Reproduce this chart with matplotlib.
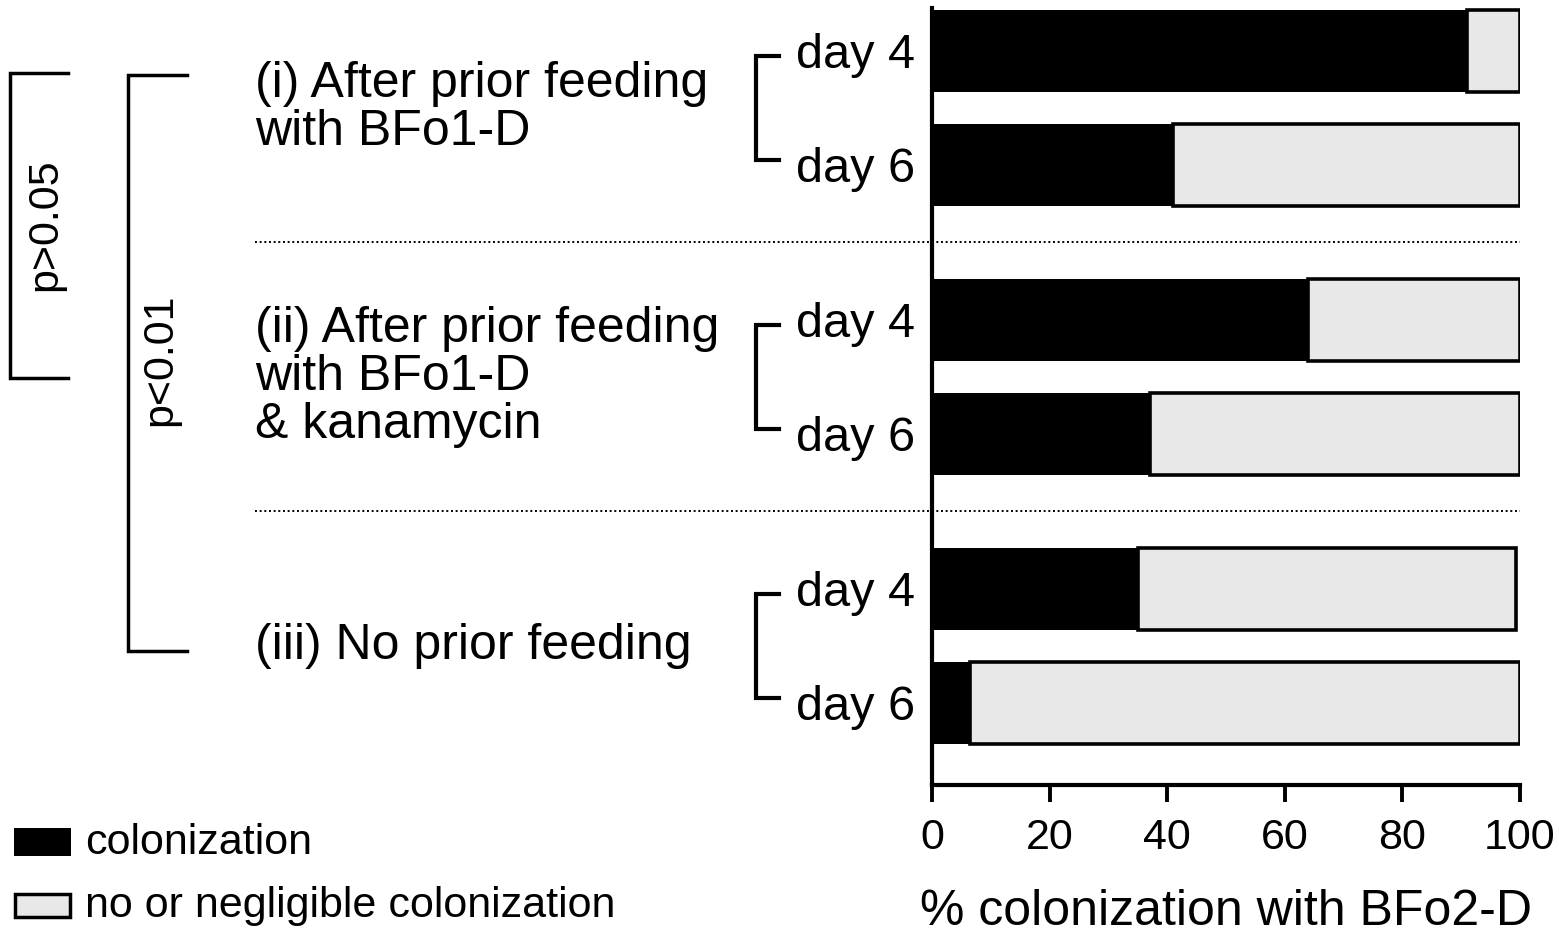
import matplotlib; matplotlib.use("Agg")
import matplotlib.pyplot as plt
import matplotlib.transforms as mtransforms
from matplotlib.lines import Line2D
from matplotlib.patches import Rectangle

plt.rcParams['font.family'] = ['Liberation Sans', 'DejaVu Sans']

# data
groups = ["(i) After prior feeding\nwith BFo1-D",
          "(ii) After prior feeding\nwith BFo1-D\n& kanamycin",
          "(iii) No prior feeding"]
days = ["day 4", "day 6"]
colonized = [91, 41, 64, 37, 35, 6.5]          # % colonization, per group x day
not_colonized = [9, 59, 36, 63, 64.3, 93.5]    # % no or negligible colonization
xticks = [0, 20, 40, 60, 80, 100]
sig_labels = ["p>0.05", "p<0.01"]

W, H, DPI = 1559, 936, 100
fig = plt.figure(figsize=(W/DPI, H/DPI), dpi=DPI)
def fx(px): return px/W
def fy(py): return 1 - py/H

ax = fig.add_axes([fx(932), fy(785), fx(1520) - fx(932), (785 - 8)/H])

GAP = 2.36
pos = [g*GAP + d for g in range(len(groups)) for d in range(len(days))]
BH = 0.72
ax.barh(pos, colonized, height=BH, color="black", linewidth=0)
ax.barh(pos, not_colonized, left=colonized, height=BH, color="#e8e8e8",
        edgecolor="black", linewidth=2.6)

ax.set_xlim(0, 100)
ax.set_ylim(6.44, -0.377)
ax.set_xticks(xticks)
ax.set_xticklabels([str(t) for t in xticks], fontsize=31)
ax.set_yticks(pos)
ax.set_yticklabels(days*len(groups), fontsize=35)
ax.tick_params(axis="y", length=0, pad=12)
ax.tick_params(axis="x", length=12, width=2.8, pad=12)
for s in ["top", "right"]: ax.spines[s].set_visible(False)
for s in ["left", "bottom"]: ax.spines[s].set_linewidth(3)
ax.set_xlabel("% colonization with BFo2-D", fontsize=36, labelpad=22)

blend = mtransforms.blended_transform_factory(fig.transFigure, ax.transData)

# dotted separators between groups
for g in range(1, len(groups)):
    y = (pos[2*g - 1] + pos[2*g]) / 2
    ax.add_line(Line2D([fx(255), fx(1520)], [y, y], transform=blend, color="black",
                       lw=1.4, ls=(0, (1, 1.4)), clip_on=False))

# group labels + day brackets
for g, name in enumerate(groups):
    y4, y6 = pos[2*g], pos[2*g + 1]
    ax.text(fx(255), (y4 + y6)/2, name, transform=blend, fontsize=36,
            va="center", ha="left", linespacing=1.05)
    ax.add_line(Line2D([fx(779), fx(756), fx(756), fx(779)],
                       [y4 + 0.04, y4 + 0.04, y6 - 0.04, y6 - 0.04],
                       transform=blend, color="black", lw=3, clip_on=False,
                       solid_joinstyle="miter"))

# significance brackets (figure pixel layout)
brackets = [(10, 68, 73, 378, 45, 225), (128, 187, 75, 651, 160, 360)]
for lab, (xv, xe, yt, yb, tx, ty) in zip(sig_labels, brackets):
    fig.add_artist(Line2D([fx(xe), fx(xv), fx(xv), fx(xe)],
                          [fy(yt), fy(yt), fy(yb), fy(yb)],
                          color="black", lw=2.5, solid_joinstyle="miter"))
    fig.text(fx(tx), fy(ty), lab, rotation=90, fontsize=31, ha="center", va="center")

# legend
fig.add_artist(Rectangle((fx(14), fy(856)), fx(71) - fx(14), (856 - 828)/H,
                         facecolor="black", edgecolor="none"))
fig.add_artist(Rectangle((fx(15), fy(917)), fx(70) - fx(15), (917 - 894)/H,
                         facecolor="#e8e8e8", edgecolor="black", linewidth=2.5))
fig.text(fx(85), fy(843), "colonization", fontsize=31, va="center")
fig.text(fx(85), fy(906), "no or negligible colonization", fontsize=31, va="center")

fig.savefig("out.png", dpi=DPI)
